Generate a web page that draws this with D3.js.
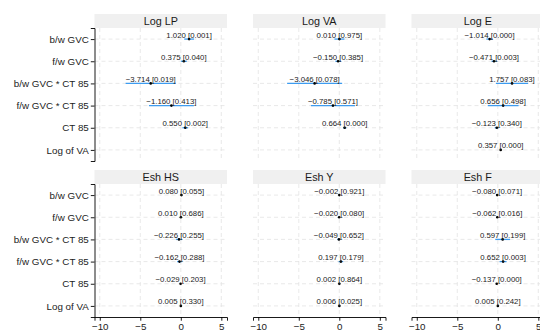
<!DOCTYPE html>
<html>
<head>
<meta charset="utf-8">
<script src="https://cdn.jsdelivr.net/npm/d3@7"></script>
<style>
  html, body { margin: 0; padding: 0; background: #fff; }
  svg { display: block; font-family: "Liberation Sans", Arial, Helvetica, sans-serif; }
</style>
</head>
<body>
<svg id="chart" width="540" height="331"></svg>
<script>
// Model outcomes (one facet each) and regressors (rows)
const panels = ["Log LP", "Log VA", "Log E", "Esh HS", "Esh Y", "Esh F"];
const terms = ["b/w GVC", "f/w GVC", "b/w GVC * CT 85", "f/w GVC * CT 85", "CT 85", "Log of VA"];
const xTicks = [-10, -5, 0, 5];

// Coefficients per outcome, in the order of `terms` (null = not in model)
const estLogLP = [1.020, 0.375, -3.714, -1.160, 0.550, null];
const estLogVA = [0.010, -0.150, -3.046, -0.785, 0.664, null];
const estLogE  = [-1.014, -0.471, 1.757, 0.656, -0.123, 0.357];
const estEshHS = [0.080, 0.010, -0.226, -0.162, -0.029, 0.005];
const estEshY  = [-0.002, -0.020, -0.049, 0.197, 0.002, 0.006];
const estEshF  = [-0.080, -0.062, 0.597, 0.652, -0.137, 0.005];

// p-values
const pLogLP = [0.001, 0.040, 0.019, 0.413, 0.002, null];
const pLogVA = [0.975, 0.385, 0.078, 0.571, 0.000, null];
const pLogE  = [0.000, 0.003, 0.083, 0.498, 0.340, 0.000];
const pEshHS = [0.055, 0.686, 0.255, 0.288, 0.203, 0.330];
const pEshY  = [0.921, 0.080, 0.652, 0.179, 0.864, 0.025];
const pEshF  = [0.071, 0.016, 0.199, 0.003, 0.000, 0.242];

// 95% confidence bounds
const loLogLP = [0.42, 0.01, -6.81, -3.93, 0.20, null];
const hiLogLP = [1.62, 0.74, -0.61, 1.61, 0.90, null];
const loLogVA = [-0.61, -0.49, -6.44, -3.50, 0.45, null];
const hiLogVA = [0.63, 0.19, 0.35, 1.93, 0.88, null];
const loLogE  = [-1.42, -0.78, -0.23, -1.24, -0.38, 0.31];
const hiLogE  = [-0.61, -0.16, 3.75, 2.56, 0.13, 0.40];
const loEshHS = [0.00, -0.04, -0.61, -0.46, -0.07, -0.01];
const hiEshHS = [0.16, 0.06, 0.16, 0.14, 0.02, 0.02];
const loEshY  = [-0.04, -0.04, -0.26, -0.09, -0.02, 0.00];
const hiEshY  = [0.04, 0.00, 0.16, 0.49, 0.03, 0.01];
const loEshF  = [-0.17, -0.11, -0.31, 0.22, -0.18, 0.00];
const hiEshF  = [0.01, -0.01, 1.51, 1.08, -0.09, 0.01];

const est = [estLogLP, estLogVA, estLogE, estEshHS, estEshY, estEshF];
const pv  = [pLogLP, pLogVA, pLogE, pEshHS, pEshY, pEshF];
const lo  = [loLogLP, loLogVA, loLogE, loEshHS, loEshY, loEshF];
const hi  = [hiLogLP, hiLogVA, hiLogE, hiEshHS, hiEshY, hiEshF];

// Facet geometry
const colLeft = [94.5, 253, 411.5];
const panelW = 132.5;
const rowTop = [14, 170];
const stripH = 14;
const panelH = 133;

const fmt = d3.format(".3f");
const svg = d3.select("#chart");

const x = d3.scaleLinear().domain([-10.65, 5.7]).range([0, panelW]);
const y = d3.scalePoint().domain(terms).range([0, panelH]).padding(0.5);

function styleAxis(ax) {
  ax.attr("font-family", null).attr("font-size", null);
  ax.select(".domain").attr("stroke", "#000").attr("stroke-width", 0.9);
  ax.selectAll(".tick line").attr("stroke", "#000").attr("stroke-width", 0.9);
  ax.selectAll(".tick text").attr("font-size", "9.8px").attr("fill", "#222");
}

panels.forEach((name, i) => {
  const col = i % 3, row = Math.floor(i / 3);
  const g = svg.append("g")
    .attr("transform", `translate(${colLeft[col]},${rowTop[row] + stripH})`);

  // strip
  g.append("rect")
    .attr("x", 0).attr("y", -stripH)
    .attr("width", panelW).attr("height", stripH)
    .attr("fill", "#f0f0f0");
  g.append("text")
    .attr("x", panelW / 2).attr("y", -3)
    .attr("text-anchor", "middle")
    .attr("font-size", "10.8px")
    .attr("fill", "#1a1a1a")
    .text(name);

  // dashed grid
  const grid = g.append("g")
    .attr("stroke", "#e3e3e3").attr("stroke-width", 0.8)
    .attr("stroke-dasharray", "4,3");
  grid.selectAll("line.v").data(xTicks).join("line")
    .attr("x1", d => x(d)).attr("x2", d => x(d))
    .attr("y1", 0).attr("y2", panelH);
  grid.selectAll("line.h").data(terms).join("line")
    .attr("x1", 0).attr("x2", panelW)
    .attr("y1", d => y(d)).attr("y2", d => y(d));

  // estimates
  const rows = terms.map((t, k) => ({
    term: t, est: est[i][k], p: pv[i][k], lo: lo[i][k], hi: hi[i][k]
  })).filter(d => d.est !== null);

  g.selectAll("line.ci").data(rows).join("line")
    .attr("x1", d => x(d.lo)).attr("x2", d => x(d.hi))
    .attr("y1", d => y(d.term)).attr("y2", d => y(d.term))
    .attr("stroke", "#3d9cf0").attr("stroke-width", 1.3);

  g.selectAll("circle").data(rows).join("circle")
    .attr("cx", d => x(d.est)).attr("cy", d => y(d.term))
    .attr("r", 1.3).attr("fill", "#000");

  g.selectAll("text.lab").data(rows).join("text")
    .attr("x", d => x(d.est)).attr("y", d => y(d.term) - 1.5)
    .attr("text-anchor", "middle")
    .attr("font-size", "7.8px")
    .attr("fill", "#222")
    .text(d => `${fmt(d.est)} [${fmt(d.p)}]`);

  // left axis on first column
  if (col === 0) {
    styleAxis(g.append("g").call(d3.axisLeft(y).tickSize(3.7).tickPadding(2)));
  }
  // bottom axis on bottom row
  if (row === 1) {
    styleAxis(g.append("g").attr("transform", `translate(0,${panelH})`)
      .call(d3.axisBottom(x).tickValues(xTicks).tickSize(3.7).tickPadding(2)));
  }
});
</script>
</body>
</html>
